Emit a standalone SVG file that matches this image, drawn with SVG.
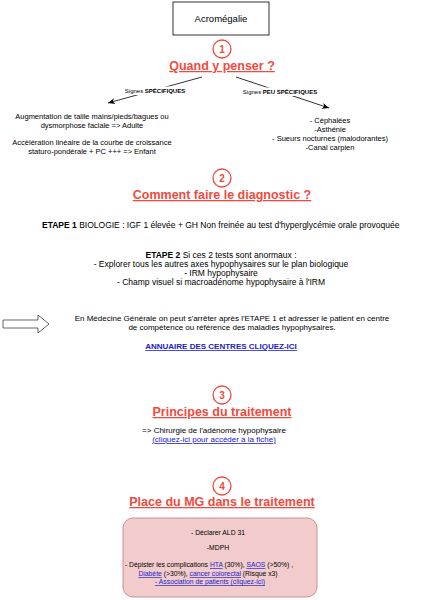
<svg xmlns="http://www.w3.org/2000/svg" width="445" height="600" viewBox="0 0 445 600">
<defs>
<style>
text{font-family:"Liberation Sans",Arial,sans-serif;fill:#000;}
.c{text-anchor:middle;}
.h{font-size:12.5px;font-weight:bold;fill:#F04A3E;text-decoration:underline;text-anchor:middle;}
.n{font-size:10px;font-weight:bold;fill:#F04A3E;text-anchor:middle;}
.ring{fill:none;stroke:#F04A3E;stroke-width:1.3;}
.s75{font-size:7.5px;}
.s8{font-size:8px;}
.s85{font-size:8.5px;}
.s6{font-size:6px;}
.s68{font-size:6.8px;}
.lk{fill:#2020CC;text-decoration:underline;}
.edge{stroke:#000;stroke-width:0.8;fill:none;marker-end:url(#ah);}
.lbg{fill:#fff;stroke:none;}
</style>
<marker id="ah" markerWidth="8" markerHeight="8" refX="7" refY="4" orient="auto" markerUnits="userSpaceOnUse">
<path d="M0,1 L7,4 L0,7 L2,4 Z" fill="#000"/>
</marker>
</defs>

<g id="title">
<rect x="173" y="2" width="96" height="33" fill="#fff" stroke="#000" stroke-width="0.8"/>
<text class="c" x="221" y="21.5" font-size="9.5">Acromégalie</text>
</g>

<g id="sec1">
<circle class="ring" cx="222" cy="49" r="9"/>
<text class="n" x="222" y="53">1</text>
<text class="h" x="222" y="70">Quand y penser ?</text>
</g>

<g id="connectors">
<line class="edge" x1="202" y1="77" x2="108" y2="103"/>
<line class="edge" x1="236" y1="77" x2="329" y2="108"/>
<rect class="lbg" x="124" y="86.5" width="63" height="8.5"/>
<rect class="lbg" x="242" y="87.5" width="78" height="8.5"/>
<text class="s6 c" x="155" y="93">Signes <tspan font-weight="bold">SPÉCIFIQUES</tspan></text>
<text class="s6 c" x="280" y="94">Signes <tspan font-weight="bold">PEU SPÉCIFIQUES</tspan></text>
</g>

<g id="specifiques">
<text class="s75 c" x="92" y="119">Augmentation de taille mains/pieds/bagues ou</text>
<text class="s75 c" x="92" y="128">dysmorphose faciale =&gt; Adulte</text>
<text class="s75 c" x="92" y="145">Accélération linéaire de la courbe de croissance</text>
<text class="s75 c" x="92" y="154">staturo-pondérale + PC +++ =&gt; Enfant</text>
</g>

<g id="peu-specifiques">
<text class="s75 c" x="330" y="123">- Céphalées</text>
<text class="s75 c" x="330" y="132">-Asthénie</text>
<text class="s75 c" x="330" y="141">- Sueurs nocturnes (malodorantes)</text>
<text class="s75 c" x="330" y="150">-Canal carpien</text>
</g>

<g id="sec2">
<circle class="ring" cx="222" cy="178" r="9"/>
<text class="n" x="222" y="182">2</text>
<text class="h" x="222" y="199">Comment faire le diagnostic ?</text>
</g>

<g id="etape1">
<text class="s85" x="42" y="228"><tspan font-weight="bold">ETAPE 1</tspan> BIOLOGIE : IGF 1 élevée + GH Non freinée au test d'hyperglycémie orale provoquée</text>
</g>

<g id="etape2">
<text class="s85 c" x="221" y="258"><tspan font-weight="bold">ETAPE 2</tspan> Si ces 2 tests sont anormaux :</text>
<text class="s85 c" x="221" y="267">- Explorer tous les autres axes hypophysaires sur le plan biologique</text>
<text class="s85 c" x="221" y="276">-  IRM hypophysaire</text>
<text class="s85 c" x="221" y="285">- Champ visuel si macroadénome hypophysaire à l'IRM</text>
</g>

<g id="arrow-mg">
<path d="M3,320 L38,320 L38,315 L49,324 L38,333 L38,328 L3,328 Z" fill="#fff" stroke="#000" stroke-width="0.6"/>
</g>

<g id="mg-note">
<text class="s8 c" x="232" y="321">En Médecine Générale on peut s'arrêter après l'ETAPE 1 et adresser le patient en centre</text>
<text class="s8 c" x="232" y="330">de compétence ou référence des maladies hypophysaires.</text>
<text class="s8 c lk" x="221" y="349" font-weight="bold">ANNUAIRE DES CENTRES CLIQUEZ-ICI</text>
</g>

<g id="sec3">
<circle class="ring" cx="222" cy="395" r="9"/>
<text class="n" x="222" y="399">3</text>
<text class="h" x="222" y="416">Principes du traitement</text>
<text class="s8 c" x="214" y="433">=&gt; Chirurgie de l'adénome hypophysaire</text>
<text class="s8 c lk" x="214" y="442">(cliquez-ici pour accéder à la fiche)</text>
</g>

<g id="sec4">
<circle class="ring" cx="222" cy="486" r="9"/>
<text class="n" x="222" y="490">4</text>
<text class="h" x="222" y="506">Place du MG dans le traitement</text>
</g>

<g id="mg-box">
<rect x="123" y="518" width="194" height="79" rx="10" ry="10" fill="#F2CCCC" stroke="#C27C78" stroke-width="0.8"/>
<text class="s68 c" x="218" y="535">- Déclarer ALD 31</text>
<text class="s68 c" x="218" y="550">-MDPH</text>
<text class="s68 c" x="209" y="567">- Dépister les complications <tspan class="lk">HTA</tspan> (30%), <tspan class="lk">SAOS</tspan> (&gt;50%) ,</text>
<text class="s68 c" x="208" y="576"><tspan class="lk">Diabète</tspan> (&gt;30%), <tspan class="lk">cancer colorectal</tspan> (Risque x3)</text>
<text class="s68 c lk" x="210" y="584">- Association de patients (cliquez-ici)</text>
</g>
</svg>
